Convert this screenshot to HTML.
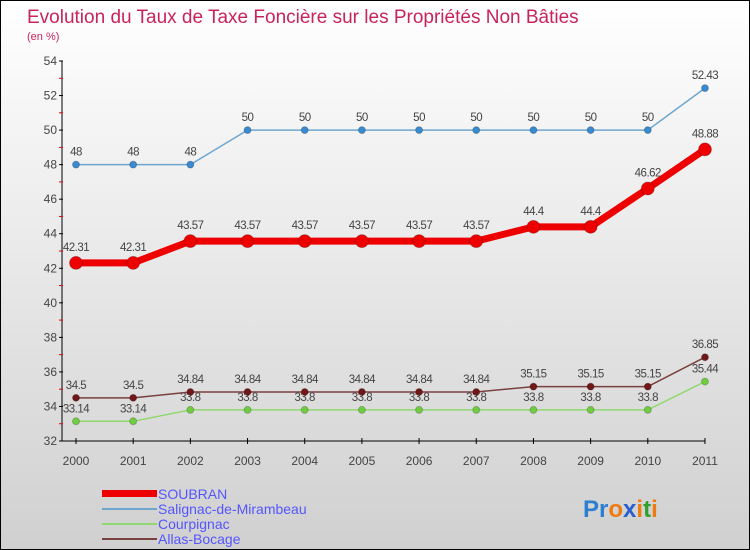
<!DOCTYPE html>
<html><head><meta charset="utf-8"><style>
body{margin:0}
#c{width:750px;height:550px;position:relative;box-sizing:border-box;border:1px solid #000;background:linear-gradient(#ffffff,#d0d0d0);font-family:"Liberation Sans",sans-serif;overflow:hidden}
</style></head><body>
<div id="c">
<svg width="750" height="550" id="s">
<text x="26" y="22" font-size="19" fill="#c8245a">Evolution du Taux de Taxe Foncière sur les Propriétés Non Bâties</text>
<text x="26" y="39" font-size="11" fill="#c8245a">(en %)</text>
<g id="plot"></g>
<g>
<rect x="101" y="489" width="55" height="7" fill="#ee0000"/>
<line x1="101" y1="508" x2="156" y2="508" stroke="#6fa6d0" stroke-width="2"/>
<line x1="101" y1="523" x2="156" y2="523" stroke="#90d870" stroke-width="2"/>
<line x1="101" y1="538" x2="156" y2="538" stroke="#7a4040" stroke-width="2"/>
<g font-size="14" fill="#5555ff">
<text x="157" y="498">SOUBRAN</text>
<text x="157" y="513">Salignac-de-Mirambeau</text>
<text x="157" y="528">Courpignac</text>
<text x="157" y="543">Allas-Bocage</text>
</g>
<text x="582" y="516" font-size="24" font-weight="bold"><tspan fill="#2a7fd0">Pr</tspan><tspan fill="#f07a10">o</tspan><tspan fill="#2a5fd0">x</tspan><tspan fill="#f07a10">i</tspan><tspan fill="#30a030">t</tspan><tspan fill="#f07a10">i</tspan></text>
</g>
</svg></div>
<script>
const years=["2000","2001","2002","2003","2004","2005","2006","2007","2008","2009","2010","2011"];
const soubran=[42.31,42.31,43.57,43.57,43.57,43.57,43.57,43.57,44.4,44.4,46.62,48.88];
const salignac=[48,48,48,50,50,50,50,50,50,50,50,52.43];
const courpignac=[33.14,33.14,33.8,33.8,33.8,33.8,33.8,33.8,33.8,33.8,33.8,35.44];
const allas=[34.5,34.5,34.84,34.84,34.84,34.84,34.84,34.84,35.15,35.15,35.15,36.85];
const yTicks=[32,34,36,38,40,42,44,46,48,50,52,54];
const NS="http://www.w3.org/2000/svg",g=document.getElementById('plot');
const X=i=>75+i*57.18, Y=v=>440-(v-32)*(380/22);
function mk(t,a){const e=document.createElementNS(NS,t);for(const k in a)e.setAttribute(k,a[k]);g.appendChild(e);return e;}
let e=mk('line',{x1:61,y1:Y(54),x2:61,y2:440,stroke:'#000'});

e=mk('line',{x1:61,y1:440,x2:X(11),y2:440,stroke:'#000'});

yTicks.forEach(v=>{mk('line',{x1:58,y1:Y(v),x2:62,y2:Y(v),stroke:'#000'});
 if(v<54)mk('line',{x1:58,y1:Y(v+1),x2:62,y2:Y(v+1),stroke:'#e00'});
 const t=mk('text',{x:56,y:Y(v)+4,'font-size':12,fill:'#444','text-anchor':'end'});t.textContent=v;
 });
years.forEach((y,i)=>{mk('line',{x1:X(i),y1:437,x2:X(i),y2:443,stroke:'#000'});
 const t=mk('text',{x:X(i),y:464,'font-size':12,fill:'#444','text-anchor':'middle'});t.textContent=y;
 });
function series(d,col,w,r,name,lcol){
 const p=mk('polyline',{points:d.map((v,i)=>X(i)+','+Y(v)).join(' '),fill:'none',stroke:col,'stroke-width':w});
 
 d.forEach((v,i)=>{const c=mk('circle',{cx:X(i),cy:Y(v),r:r,fill:lcol,stroke:'#0003'});
  
  const t=mk('text',{x:X(i),y:Y(v)-9-(r>4?3:0),'font-size':11.5,fill:'#444','text-anchor':'middle','letter-spacing':'-0.5'});t.textContent=v;
  });
}
series(salignac,'#6fa6d0',1.5,3.5,'salignac','#3a8ad0');
series(courpignac,'#90d870',1.5,3.5,'courpignac','#70cc40');
series(allas,'#7a4040',1.5,3.5,'allas','#701818');
series(soubran,'#ee0000',7,6.5,'soubran','#ee0000');
</script>
</body></html>
